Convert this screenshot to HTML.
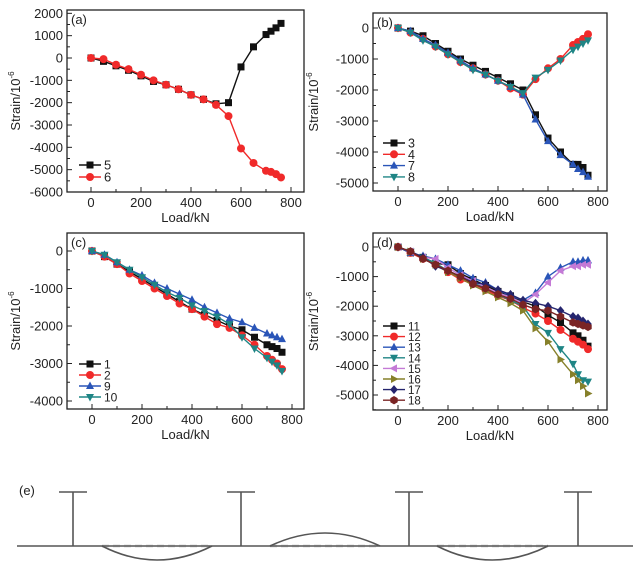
<!DOCTYPE html>
<html><head><meta charset="utf-8"><style>
body{margin:0;background:#fff;width:636px;height:570px;overflow:hidden}
svg{font-family:"Liberation Sans",Arial,sans-serif}
</style></head><body>
<svg id="fig" width="636" height="570" viewBox="0 0 636 570" xmlns="http://www.w3.org/2000/svg">
<g id="diagram" stroke="#555" stroke-width="1.6" fill="none">
<text x="19" y="495" font-size="13" fill="#222" stroke="none">(e)</text>
<line x1="17" y1="546" x2="633" y2="546"/>
<line x1="73" y1="492" x2="73" y2="546"/><line x1="59" y1="492" x2="87" y2="492"/>
<line x1="241" y1="492" x2="241" y2="546"/><line x1="227" y1="492" x2="255" y2="492"/>
<line x1="409" y1="492" x2="409" y2="546"/><line x1="395" y1="492" x2="423" y2="492"/>
<line x1="578" y1="492" x2="578" y2="546"/><line x1="564" y1="492" x2="592" y2="492"/>
<line x1="102" y1="546" x2="212" y2="546" stroke-dasharray="7,4" stroke="#777" stroke-width="2.2"/>
<line x1="270" y1="546" x2="380" y2="546" stroke-dasharray="7,4" stroke="#777" stroke-width="2.2"/>
<line x1="437" y1="546" x2="548" y2="546" stroke-dasharray="7,4" stroke="#777" stroke-width="2.2"/>
<path d="M102 546 Q157 574 212 546"/>
<path d="M270 546 Q325 520 380 546"/>
<path d="M437 546 Q492 574 548 546"/>
</g>
</svg>
<script>
const loads=[0,50,100,150,200,250,300,350,400,450,500,550,600,650,700,720,740,760];
const s5=[0,-150,-350,-550,-800,-1050,-1200,-1400,-1650,-1850,-2050,-2000,-400,500,1050,1200,1350,1550];
const s6=[0,-50,-300,-500,-750,-1000,-1200,-1400,-1650,-1850,-2100,-2600,-4050,-4700,-5050,-5100,-5200,-5350];
const s3=[0,-100,-250,-500,-750,-1000,-1200,-1400,-1600,-1800,-2000,-2800,-3550,-4000,-4400,-4400,-4500,-4750];
const s4=[0,-150,-350,-600,-850,-1100,-1300,-1500,-1700,-1950,-2150,-1650,-1300,-1000,-550,-450,-350,-200];
const s7=[0,-100,-350,-550,-800,-1050,-1300,-1500,-1700,-1900,-2150,-2950,-3650,-4100,-4400,-4550,-4650,-4800];
const s8=[0,-150,-400,-600,-850,-1100,-1350,-1500,-1700,-1900,-2100,-1600,-1350,-1050,-700,-600,-500,-400];
const s1=[0,-150,-350,-550,-750,-950,-1150,-1350,-1550,-1700,-1850,-2000,-2100,-2300,-2500,-2550,-2600,-2700];
const s2=[0,-150,-350,-600,-800,-1000,-1200,-1400,-1550,-1750,-1950,-2050,-2250,-2500,-2800,-2900,-3000,-3150];
const s9=[0,-100,-300,-500,-650,-850,-1000,-1150,-1300,-1500,-1650,-1800,-1900,-2050,-2200,-2250,-2300,-2350];
const s10=[0,-100,-300,-500,-700,-900,-1100,-1250,-1450,-1600,-1750,-1950,-2300,-2600,-2850,-2950,-3050,-3200];
const s11=[0,-200,-350,-550,-600,-900,-1100,-1300,-1500,-1650,-1850,-2000,-2300,-2550,-2900,-3000,-3150,-3350];
const s12=[0,-200,-400,-600,-850,-1100,-1250,-1450,-1650,-1800,-2050,-2250,-2500,-2800,-3100,-3200,-3300,-3450];
const s13=[0,-200,-300,-400,-600,-800,-1050,-1200,-1450,-1650,-1800,-1550,-1000,-700,-500,-500,-450,-450];
const s14=[0,-150,-350,-550,-800,-1000,-1200,-1400,-1600,-1800,-2000,-2600,-2900,-3450,-3950,-4300,-4500,-4550];
const s15=[0,-150,-350,-400,-700,-950,-1150,-1350,-1550,-1700,-1900,-1600,-1200,-800,-650,-650,-600,-600];
const s16=[0,-150,-400,-600,-850,-1050,-1300,-1500,-1700,-1900,-2150,-2750,-3200,-3800,-4300,-4500,-4700,-4950];
const s17=[0,-150,-350,-650,-800,-1000,-1200,-1250,-1450,-1600,-1800,-1900,-2000,-2150,-2350,-2400,-2500,-2600];
const s18=[0,-150,-400,-600,-800,-1000,-1250,-1400,-1600,-1750,-1950,-2100,-2150,-2350,-2550,-2600,-2650,-2700];
const xTicks=[0,200,400,600,800];
const yTicksA=[2000,1000,0,-1000,-2000,-3000,-4000,-5000,-6000];
const yTicksB=[0,-1000,-2000,-3000,-4000,-5000];
const yTicksC=[0,-1000,-2000,-3000,-4000];
const yTicksD=[0,-1000,-2000,-3000,-4000,-5000];

const NS="http://www.w3.org/2000/svg";
const fig=document.getElementById('fig');
function mk(tag,attrs,parent){const e=document.createElementNS(NS,tag);for(const k in attrs)e.setAttribute(k,attrs[k]);(parent||fig).appendChild(e);return e;}
const COL={k:'#111',r:'#f02a2a',b:'#2a55b8',t:'#1f8585',v:'#c47ad6',o:'#86802a',n:'#25256e',m:'#7a2424'};
function marker(g,type,x,y,c){
  const s=3.5;let e;
  if(type==='sq')e=mk('rect',{x:x-s,y:y-s,width:2*s,height:2*s,fill:c},g);
  else if(type==='ci')e=mk('circle',{cx:x,cy:y,r:s+0.5,fill:c},g);
  else{
    let p;
    if(type==='up')p=[[0,-4.5],[4,3],[-4,3]];
    if(type==='dn')p=[[0,4.5],[4,-3],[-4,-3]];
    if(type==='lf')p=[[-4.5,0],[3,-4],[3,4]];
    if(type==='rt')p=[[4.5,0],[-3,-4],[-3,4]];
    if(type==='di')p=[[0,-4.5],[3.8,0],[0,4.5],[-3.8,0]];
    if(type==='hx')p=[[0,-4.2],[3.7,-2.1],[3.7,2.1],[0,4.2],[-3.7,2.1],[-3.7,-2.1]];
    e=mk('polygon',{points:p.map(q=>(x+q[0])+','+(y+q[1])).join(' '),fill:c},g);
  }
  
  
}
function panel(cfg){
  const g=mk('g',{});
  
  
  const L=cfg.L,R=cfg.R,T=cfg.T,B=cfg.B;
  const X=v=>cfg.x0+(v)*(cfg.x800-cfg.x0)/800;
  const Yf=v=>cfg.y0+(0-v)*(cfg.yr-cfg.y0)/(0-cfg.yv);
  const box=mk('rect',{x:L,y:T,width:R-L,height:B-T,fill:'none',stroke:'#222','stroke-width':1.3},g);
  
  
  for(const v of xTicks){
    const x=X(v);mk('line',{x1:x,y1:B,x2:x,y2:B-5,stroke:'#222'},g);
    const t=mk('text',{x:x,y:B+15,'font-size':13,'text-anchor':'middle',fill:'#222'},g);t.textContent=v;
    
    
  }
  for(let v=-100;v<=800;v+=200){const x=X(v);if(x>L&&x<R)mk('line',{x1:x,y1:B,x2:x,y2:B-3,stroke:'#222'},g);}
  const step=1000;
  for(const v of cfg.yt){
    const y=Yf(v);mk('line',{x1:L,y1:y,x2:L+5,y2:y,stroke:'#222'},g);
    const t=mk('text',{x:L-4,y:y+4.5,'font-size':13,'text-anchor':'end',fill:'#222'},g);t.textContent=v;
    
    
    const ym=Yf(v-step/2);if(ym<B&&ym>T)mk('line',{x1:L,y1:ym,x2:L+3,y2:ym,stroke:'#222'},g);
  }
  const yl=mk('text',{x:0,y:0,'font-size':13,'text-anchor':'middle',fill:'#222',transform:`translate(${cfg.ylx},${(T+B)/2}) rotate(-90)`},g);
  yl.innerHTML='Strain/10<tspan font-size="8" dy="-6">-6</tspan>';
  
  
  const xl=mk('text',{x:(L+R)/2,y:B+30,'font-size':13,'text-anchor':'middle',fill:'#222'},g);xl.textContent='Load/kN';
  
  
  const pl=mk('text',{x:L+4,y:T+14,'font-size':13,fill:'#222'},g);pl.textContent='('+cfg.id+')';
  
  
  cfg.series.forEach((s,i)=>{
    const sg=mk('g',{},g);
    
    
    mk('polyline',{points:loads.map((l,j)=>X(l)+','+Yf(s.d[j])).join(' '),fill:'none',stroke:s.c,'stroke-width':1.4},sg);
    loads.forEach((l,j)=>marker(sg,s.m,X(l),Yf(s.d[j]),s.c));
    const ly=cfg.legY+i*cfg.legDy;
    const lg=mk('g',{},g);
    
    
    mk('line',{x1:cfg.legX,y1:ly,x2:cfg.legX+22,y2:ly,stroke:s.c,'stroke-width':1.4},lg);
    marker(lg,s.m,cfg.legX+11,ly,s.c);
    const t=mk('text',{x:cfg.legX+25,y:ly+4.5,'font-size':cfg.legF,fill:'#222'},lg);t.textContent=s.name;
  });
}
panel({id:'a',L:67,R:304,T:10,B:192,x0:91,x800:291,y0:58,yr:192,yv:-6000,yt:yTicksA,ylx:20,legX:79,legY:165,legDy:12,legF:13,
 series:[{name:'5',d:s5,c:COL.k,m:'sq'},{name:'6',d:s6,c:COL.r,m:'ci'}]});
panel({id:'b',L:373,R:607,T:13,B:191,x0:398,x800:598,y0:28,yr:183,yv:-5000,yt:yTicksB,ylx:318,legX:383,legY:143,legDy:11.3,legF:12.5,
 series:[{name:'3',d:s3,c:COL.k,m:'sq'},{name:'4',d:s4,c:COL.r,m:'ci'},{name:'7',d:s7,c:COL.b,m:'up'},{name:'8',d:s8,c:COL.t,m:'dn'}]});
panel({id:'c',L:67,R:304,T:233,B:409,x0:92,x800:292,y0:251,yr:401,yv:-4000,yt:yTicksC,ylx:20,legX:79,legY:364,legDy:11,legF:12,
 series:[{name:'1',d:s1,c:COL.k,m:'sq'},{name:'2',d:s2,c:COL.r,m:'ci'},{name:'9',d:s9,c:COL.b,m:'up'},{name:'10',d:s10,c:COL.t,m:'dn'}]});
panel({id:'d',L:373,R:607,T:233,B:410,x0:398,x800:598,y0:247,yr:395,yv:-5000,yt:yTicksD,ylx:318,legX:383,legY:326,legDy:10.6,legF:11.5,
 series:[{name:'11',d:s11,c:COL.k,m:'sq'},{name:'12',d:s12,c:COL.r,m:'ci'},{name:'13',d:s13,c:COL.b,m:'up'},{name:'14',d:s14,c:COL.t,m:'dn'},
 {name:'15',d:s15,c:COL.v,m:'lf'},{name:'16',d:s16,c:COL.o,m:'rt'},{name:'17',d:s17,c:COL.n,m:'di'},{name:'18',d:s18,c:COL.m,m:'hx'}]});
</script>
</body></html>
